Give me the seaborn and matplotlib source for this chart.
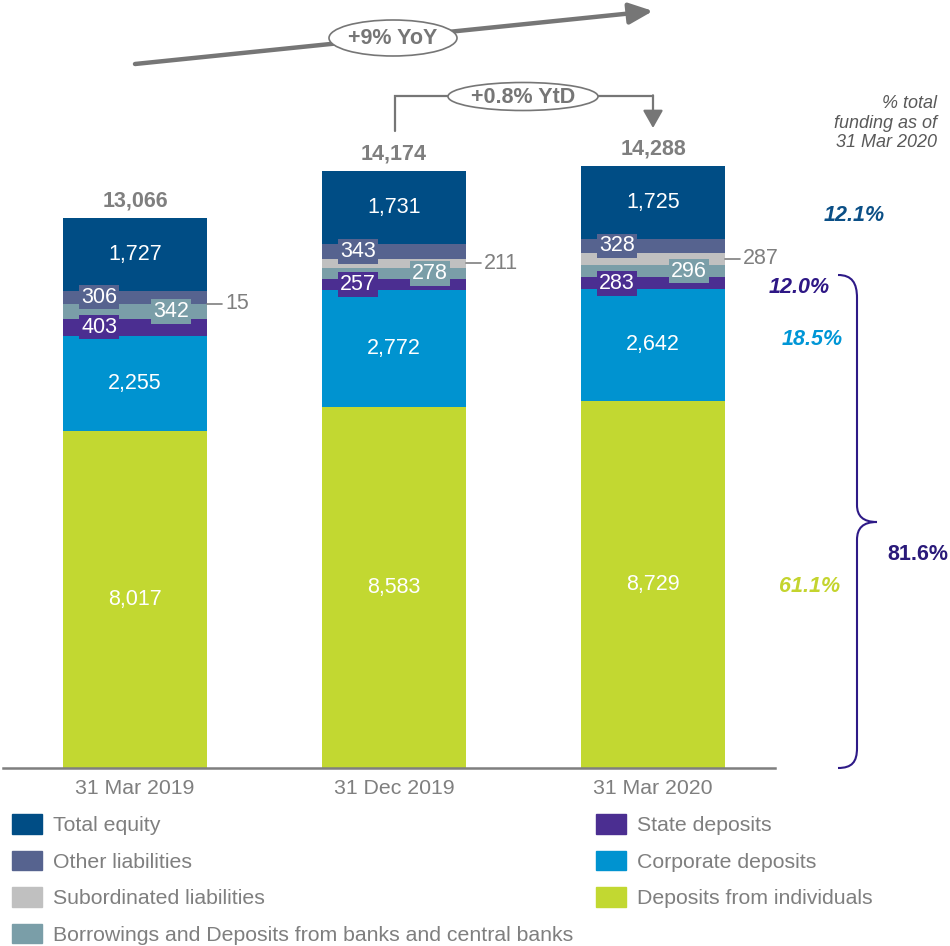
import numpy as np
import pandas as pd
import matplotlib.pyplot as plt
import seaborn as sns
from matplotlib.patches import Ellipse, Patch, PathPatch
from matplotlib.path import Path

# data (RUB bn), stacked bottom -> top
periods = ['31 Mar 2019', '31 Dec 2019', '31 Mar 2020']
individuals = [8017, 8583, 8729]
corporate = [2255, 2772, 2642]
state = [403, 257, 283]
banks = [342, 278, 296]
subordinated = [15, 211, 287]
other = [306, 343, 328]
equity = [1727, 1731, 1725]
totals = [13066, 14174, 14288]

names = ['Deposits from individuals', 'Corporate deposits', 'State deposits',
         'Borrowings and Deposits from banks and central banks',
         'Subordinated liabilities', 'Other liabilities', 'Total equity']
colors = ['#C2D831', '#0093D0', '#4B2E91', '#7A9EA8', '#C0C0C0', '#56638F', '#004D85']
# how each segment is labelled
label_mode = ['center', 'center', 'left', 'right', 'outside', 'left', 'center']

share_labels = ['12.1%', '12.0%', '18.5%', '61.1%']
share_colors = ['#0B4F86', '#2E1785', '#0096D6', '#C4D42E']
group_share = '81.6%'

GRAY = '#7F7F7F'
FS = 15.5
sns.set_style('white')
plt.rcParams['font.family'] = ['Liberation Sans', 'DejaVu Sans']

fig = plt.figure(figsize=(9.5, 9.46), dpi=100)
ax = fig.add_axes([3 / 950, 178 / 946, 772 / 950, 768 / 946])

segs = np.array([individuals, corporate, state, banks, subordinated, other, equity])
tops = segs.cumsum(axis=0)
bottoms = tops - segs
W = 0.556

# stacked bars: draw cumulative heights from the top segment down
for k in range(len(names) - 1, -1, -1):
    sns.barplot(x=periods, y=tops[k], color=colors[k], saturation=1,
                width=W, linewidth=0, ax=ax)

ax.set_xlim(-0.5097, 2.471)
ax.set_ylim(0, 18245)
ax.set_xlabel('')
ax.set_ylabel('')
ax.set_yticks([])
for s in ['left', 'right', 'top']:
    ax.spines[s].set_visible(False)
ax.spines['bottom'].set_color(GRAY)
ax.spines['bottom'].set_linewidth(1.8)
ax.tick_params(axis='x', length=0, pad=8, labelsize=15.3, colors=GRAY)

# segment labels
for k in range(len(names)):
    for i in range(len(periods)):
        v = segs[k, i]
        mid = bottoms[k, i] + v / 2
        txt = f'{v:,}'
        mode = label_mode[k]
        if mode == 'center':
            ax.text(i, mid, txt, ha='center', va='center', color='white', fontsize=FS)
        elif mode in ('left', 'right'):
            dx = -0.139 if mode == 'left' else 0.139
            ax.text(i + dx, mid, txt, ha='center', va='center', color='white', fontsize=FS,
                    bbox=dict(boxstyle='square,pad=0.08', fc=colors[k], ec='none'), zorder=4)
        else:
            x0 = i + W / 2
            ax.plot([x0, x0 + 0.058], [mid, mid], color=GRAY, lw=1.2, clip_on=False)
            ax.text(x0 + 0.07, mid, txt, ha='left', va='center', color=GRAY, fontsize=FS)

for i, t in enumerate(totals):
    ax.annotate(f'{t:,}', xy=(i, t), xytext=(0, 12.5), textcoords='offset points',
                ha='center', va='center', fontsize=FS, fontweight='bold', color=GRAY)

# overlay in pixel coordinates for the callouts
ov = fig.add_axes([0, 0, 1, 1], zorder=5)
ov.set_xlim(0, 950)
ov.set_ylim(946, 0)
ov.axis('off')

ARROW = '#767676'
ov.annotate('', xy=(653, 11), xytext=(135, 64),
            arrowprops=dict(arrowstyle='-|>,head_length=0.72,head_width=0.32', lw=3.2,
                            color=ARROW, shrinkA=0, shrinkB=0, mutation_scale=20))
ov.add_patch(Ellipse((393, 38), 128, 36, fc='white', ec=ARROW, lw=1.2, zorder=3))
ov.text(393, 39, '+9% YoY', ha='center', va='center', fontsize=FS,
        fontweight='bold', color=ARROW, zorder=4)

ov.plot([395, 395, 653], [131, 96, 96], color=ARROW, lw=1.6, solid_joinstyle='miter')
ov.annotate('', xy=(653, 128), xytext=(653, 95.3),
            arrowprops=dict(arrowstyle='-|>,head_length=0.6,head_width=0.34', lw=1.6,
                            color=ARROW, shrinkA=0, shrinkB=0, mutation_scale=18))
ov.add_patch(Ellipse((523, 96.5), 150, 28, fc='white', ec=ARROW, lw=1.2, zorder=3))
ov.text(523, 97.5, '+0.8% YtD', ha='center', va='center', fontsize=FS,
        fontweight='bold', color=ARROW, zorder=4)

# right-hand shares
ov.text(937, 123, '% total\nfunding as of\n31 Mar 2020', ha='right', va='center',
        fontsize=13, style='italic', color='#595959', linespacing=1.2)
share_pos = [(854, 215), (799, 287), (812, 339), (810, 586)]
for (px, py), lab, c in zip(share_pos, share_labels, share_colors):
    ov.text(px, py, lab, ha='center', va='center', fontsize=FS, fontweight='bold',
            style='italic', color=c)
ov.text(918, 554, group_share, ha='center', va='center', fontsize=FS,
        fontweight='bold', color='#2A1A7A')

brace = Path([(838, 275), (852, 275), (857, 283), (857, 298),
              (857, 505),
              (857, 516), (863, 522), (877, 522),
              (863, 522), (857, 528), (857, 540),
              (857, 748),
              (857, 762), (852, 768), (838, 768)],
             [Path.MOVETO, Path.CURVE4, Path.CURVE4, Path.CURVE4,
              Path.LINETO,
              Path.CURVE4, Path.CURVE4, Path.CURVE4,
              Path.CURVE4, Path.CURVE4, Path.CURVE4,
              Path.LINETO,
              Path.CURVE4, Path.CURVE4, Path.CURVE4])
ov.add_patch(PathPatch(brace, fc='none', ec='#2E1A87', lw=1.5))

# legend
handles = [Patch(color=colors[k], label=names[k]) for k in [6, 5, 4, 3, 2, 1, 0]]
fig.legend(handles=handles, ncol=2, loc='upper left', bbox_to_anchor=(12 / 950, 1 - 814 / 946),
           frameon=False, fontsize=15.3, labelcolor=GRAY, handlelength=1.41, handleheight=1.04,
           handletextpad=0.5, columnspacing=1.1, labelspacing=0.73, borderpad=0, borderaxespad=0)

fig.savefig('out.png', dpi=100)
